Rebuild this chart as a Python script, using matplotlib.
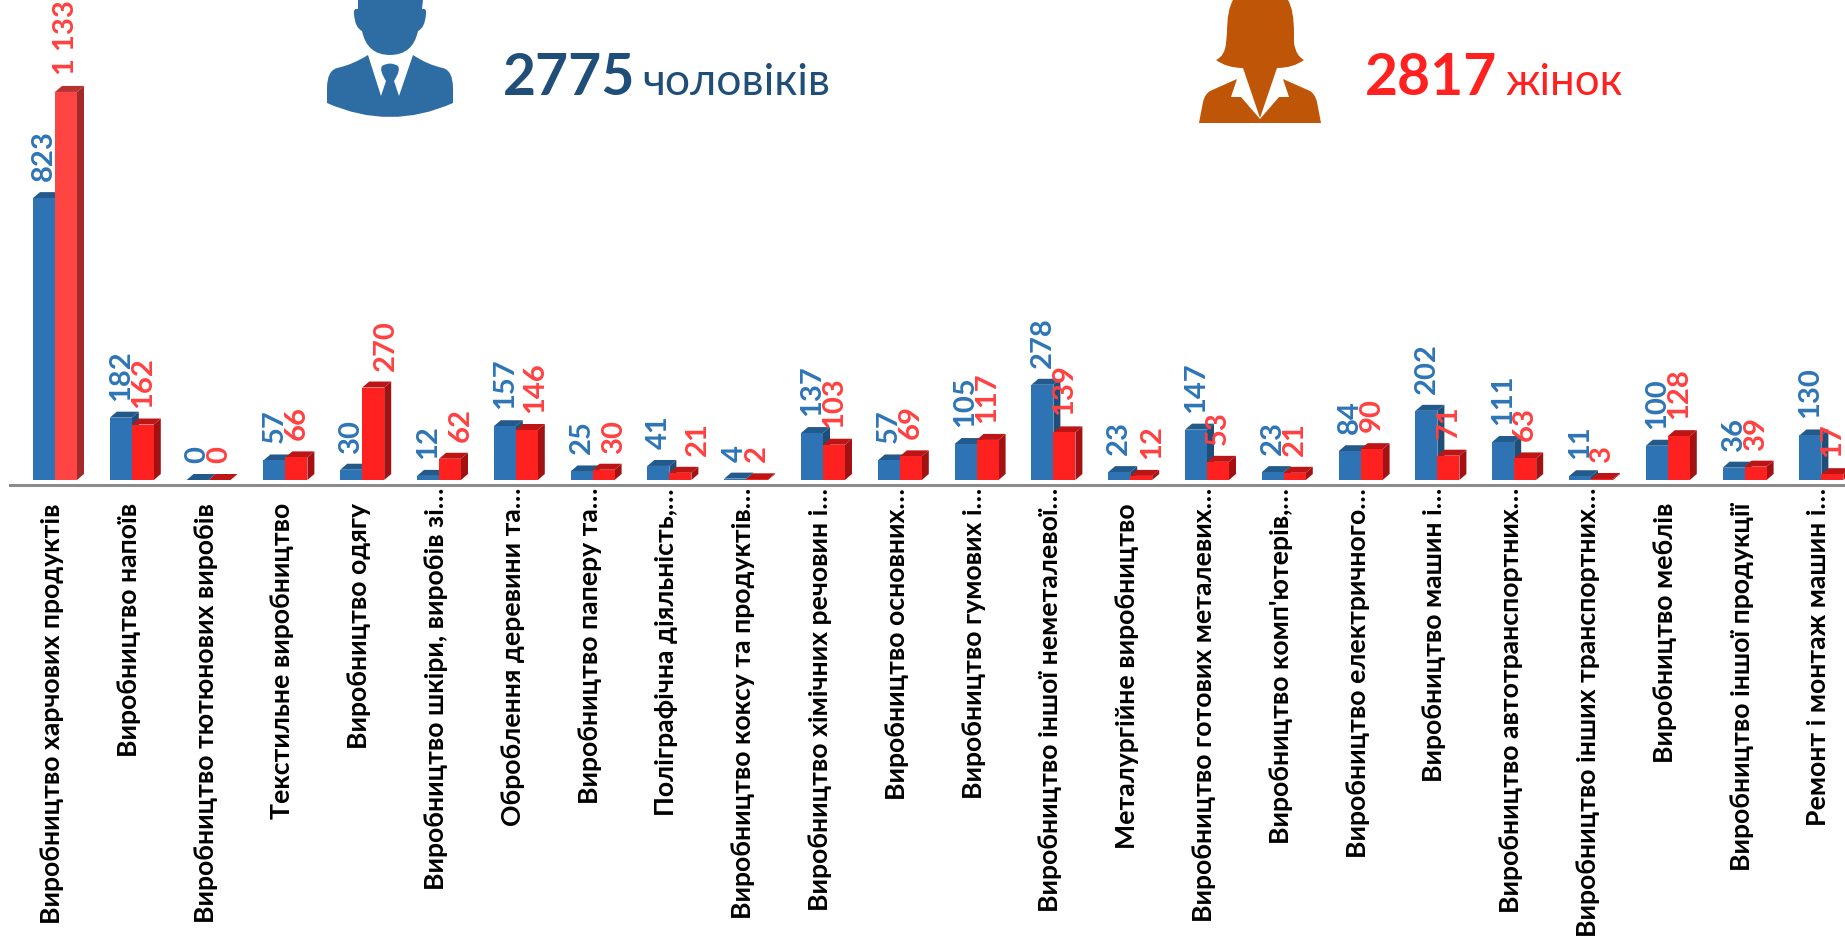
import matplotlib
matplotlib.use("Agg")
import matplotlib.pyplot as plt
from matplotlib.patches import Polygon, PathPatch
from matplotlib.path import Path
from matplotlib.transforms import ScaledTranslation

W, H = 1845, 936
plt.rcParams['font.family'] = ['Lato', 'Noto Sans', 'DejaVu Sans']

categories = [
    "Виробництво харчових продуктів", "Виробництво напоїв", "Виробництво тютюнових виробів",
    "Текстильне виробництво", "Виробництво одягу", "Виробництво шкіри, виробів зі…",
    "Оброблення деревини та…", "Виробництво паперу та…", "Поліграфічна діяльність,…",
    "Виробництво коксу та продуктів…", "Виробництво хімічних речовин і…", "Виробництво основних…",
    "Виробництво гумових і…", "Виробництво іншої неметалевої…", "Металургійне виробництво",
    "Виробництво готових металевих…", "Виробництво комп'ютерів,…", "Виробництво електричного…",
    "Виробництво машин і…", "Виробництво автотранспортних…", "Виробництво інших транспортних…",
    "Виробництво меблів", "Виробництво іншої продукції", "Ремонт і монтаж машин і…",
]
men = [823, 182, 0, 57, 30, 12, 157, 25, 41, 4, 137, 57, 105, 278, 23, 147, 23, 84, 202, 111, 11, 100, 36, 130]
women = [1133, 162, 0, 66, 270, 62, 146, 30, 21, 2, 103, 69, 117, 139, 12, 53, 21, 90, 71, 63, 3, 128, 39, 17]

fig = plt.figure(figsize=(W / 100, H / 100), dpi=100, facecolor="white")
# axes from the top of the figure down to the axis line (y=485 px)
ax = fig.add_axes([0, 1 - 485 / H, 1, 485 / H])
PX_X, PX_Y = 76.8, 0.3425
ax.set_xlim(-55 / PX_X, (W - 55) / PX_X)
ax.set_ylim(-5 / PX_Y, 480 / PX_Y)
for s in ("top", "left", "right"):
    ax.spines[s].set_visible(False)
ax.spines["bottom"].set_color("#8c8c8c")
ax.spines["bottom"].set_linewidth(2.2)
ax.spines["bottom"].set_bounds((10 - 55) / PX_X, (W - 55) / PX_X)
ax.set_yticks([])
ax.set_xticks(range(len(categories)))
ax.set_xticklabels(categories, rotation=90, fontsize=19.2, fontweight="bold", color="black", va="top", ha="center")
ax.tick_params(axis="x", length=0, pad=0)
for lab in ax.get_xticklabels():
    # untruncated labels hang lower than those ending in an ellipsis
    dy = 3 if lab.get_text().endswith("…") else 18
    lab.set_transform(ax.get_xaxis_transform() + ScaledTranslation(-3 / 100, -dy / 100, fig.dpi_scale_trans))

BW = 22 / PX_X
DX, DY = 7 / PX_X, 6 / PX_Y


def bar3d(x0, v, front, top, side, z):
    ax.bar(x0, v, BW, align="edge", color=front, zorder=z + .2)
    ax.add_patch(Polygon([(x0 + BW, 0), (x0 + BW + DX, DY), (x0 + BW + DX, v + DY), (x0 + BW, v)], color=side, lw=0, zorder=z))
    ax.add_patch(Polygon([(x0, v), (x0 + DX, v + DY), (x0 + BW + DX, v + DY), (x0 + BW, v)], color=top, lw=0, zorder=z + .1))


for i, (m, w) in enumerate(zip(men, women)):
    bar3d(i - BW, m, "#2e74b5", "#235a8c", "#1f4e79", 2)
    if i == 0:
        bar3d(i, w, "#ff4444", "#b83232", "#a32a2a", 3)
    else:
        bar3d(i, w, "#ff2020", "#bd1515", "#a31212", 3)

LABEL_GAP = 17
red_shift = {4: 13, 5: 11, 6: 8, 7: 10, 8: 17, 14: 11}
for i, (m, w) in enumerate(zip(men, women)):
    ax.annotate(str(m), (i - BW / 2, m), xytext=(0, LABEL_GAP * .72), textcoords="offset points",
                rotation=90, ha="center", va="bottom", fontsize=21, color="#2e75b6", fontweight="bold", zorder=6)
    t = "1 133" if w == 1133 else str(w)
    ax.annotate(t, (i + BW / 2 + red_shift.get(i, 0) / PX_X, w), xytext=(0, LABEL_GAP * .72), textcoords="offset points",
                rotation=90, ha="center", va="bottom", fontsize=21, color="#ff4040", fontweight="bold", zorder=6)

# overlay axes in pixel coordinates for the icons and header text
ov = fig.add_axes([0, 0, 1, 1], facecolor="none")
ov.set_xlim(0, W); ov.set_ylim(H, 0); ov.axis("off")
M, L, Q, C, Z = Path.MOVETO, Path.LINETO, Path.CURVE3, Path.CURVE4, Path.CLOSEPOLY


def icon(segments, color):
    verts, codes = [], []
    for code, *pts in segments:
        for p in pts:
            verts.append(p)
            codes.append(code)
    verts.append(verts[0]); codes.append(Z)
    ov.add_patch(PathPatch(Path(verts, codes), facecolor=color, edgecolor="none", lw=0))


MAN = "#2e6da4"
icon([(M, (358, 0)), (L, (423, 0)), (L, (422, 9)), (Q, (427, 8), (426, 14)), (Q, (425, 28), (418, 31)),
      (Q, (413, 55), (390, 55)), (Q, (367, 55), (362, 31)), (Q, (355, 28), (354, 14)), (Q, (353, 8), (358, 9))], MAN)
icon([(M, (368, 55)), (L, (381, 96)), (L, (386, 81)), (L, (394, 81)), (L, (399, 96)), (L, (413, 55)),
      (Q, (428, 65), (443, 68)), (Q, (453, 71), (453, 88)), (L, (453, 103)), (Q, (390, 131), (327, 103)),
      (L, (327, 88)), (Q, (327, 71), (337, 68)), (Q, (352, 65), (368, 55))], MAN)
icon([(M, (386, 81)), (Q, (379, 70), (382, 66)), (Q, (390, 61), (398, 66)), (Q, (401, 70), (394, 81))], MAN)

WOM = "#bf5507"
icon([(M, (1233, 0)), (L, (1288, 0)), (Q, (1294, 10), (1294, 33)), (L, (1294, 43)), (Q, (1296, 56), (1304, 60)),
      (Q, (1293, 68), (1277, 68)), (L, (1260, 118)), (L, (1243, 68)), (Q, (1227, 68), (1216, 60)),
      (Q, (1225, 56), (1226, 43)), (L, (1227, 33)), (Q, (1227, 10), (1233, 0))], WOM)
icon([(M, (1237, 79)), (L, (1231, 97)), (L, (1241, 97)), (L, (1260, 119)), (L, (1279, 97)), (L, (1289, 97)),
      (L, (1283, 79)), (L, (1310, 91)), (Q, (1315, 94), (1317, 102)), (L, (1321, 123)), (L, (1199, 123)),
      (L, (1203, 102)), (Q, (1205, 94), (1210, 91))], WOM)

ov.text(503, 95, "2775", fontsize=41, fontweight="bold", color="#1f4e79", va="baseline", ha="left")
ov.text(642, 95, "чоловіків", fontsize=32, color="#1f4e79", va="baseline", ha="left")
ov.text(1365, 95, "2817", fontsize=41, fontweight="bold", color="#ff2020", va="baseline", ha="left")
ov.text(1505, 95, "жінок", fontsize=31.5, color="#ff2020", va="baseline", ha="left")

fig.savefig("out.png", dpi=100, facecolor="white")
